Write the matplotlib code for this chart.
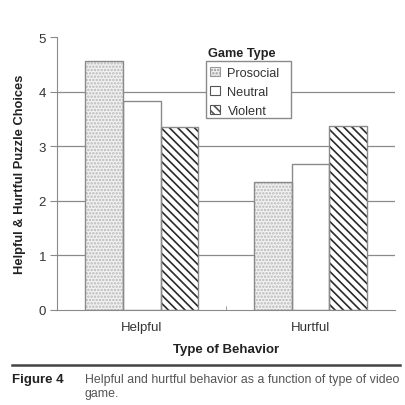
import matplotlib
matplotlib.use("Agg")
import matplotlib.pyplot as plt
import matplotlib.patches as mpatches
import numpy as np

plt.rcParams['font.family'] = ['Liberation Sans', 'DejaVu Sans']
plt.rcParams['hatch.linewidth'] = 1.2

categories = ["Helpful", "Hurtful"]
series_names = ["Prosocial", "Neutral", "Violent"]
prosocial = [4.56, 2.34]
neutral = [3.83, 2.67]
violent = [3.36, 3.38]
yticks = [0, 1, 2, 3, 4, 5]

fig = plt.figure(figsize=(4.06, 4.06), dpi=100)
ax = fig.add_axes([0.141, 0.234, 0.832, 0.672])

x = np.arange(len(categories))
w = 0.223
edge = '#8a8a8a'
txt = '#333333'
styles = [
    dict(face='#f2f2f2', hatch='.....', hcol='#b8b8b8'),
    dict(face='white', hatch=None, hcol='white'),
    dict(face='white', hatch='\\\\\\\\', hcol='#2a2a2a'),
]
for i, (vals, st) in enumerate(zip([prosocial, neutral, violent], styles)):
    pos = x + (i - 1) * w
    ax.bar(pos, vals, w, color=st['face'], hatch=st['hatch'], edgecolor=st['hcol'],
           linewidth=0, zorder=2)
    ax.bar(pos, vals, w, fill=False, edgecolor=edge, linewidth=1.0, zorder=3)

ax.set_xlim(-0.5, 1.5)
ax.set_ylim(0, 5)
ax.set_yticks(yticks)
ax.set_xticks(x)
ax.set_xticklabels(categories, fontsize=9.5, color=txt)
ax.set_xticks([0.5], minor=True)
ax.tick_params(axis='x', which='major', length=0, pad=8)
ax.tick_params(axis='x', which='minor', length=3, color=edge, direction='in')
ax.tick_params(axis='y', length=5, color=edge, labelsize=9.5, labelcolor=txt, pad=3)
for yv in yticks[1:-1]:
    ax.axhline(yv, color='#8a8a8a', linewidth=0.9, zorder=1)
for s in ['top', 'right']:
    ax.spines[s].set_visible(False)
ax.spines['left'].set_color(edge)
ax.spines['bottom'].set_color(edge)
ax.set_ylabel("Helpful & Hurtful Puzzle Choices", fontsize=9.3, fontweight='bold',
              labelpad=9, color='#222222')
ax.set_xlabel("Type of Behavior", fontsize=9.5, fontweight='bold', labelpad=7, color='#222222')

# legend frame drawn as a plain rectangle (figure pixels -> fraction)
box = mpatches.Rectangle((206 / 406, 1 - 119.3 / 406), (290.7 - 206) / 406, (119.3 - 61.7) / 406,
                         transform=fig.transFigure, facecolor='white', edgecolor='#8a8a8a',
                         linewidth=1.0, zorder=4)
ax.add_artist(box)
box.set_clip_on(False)

handles = []
for st in styles:
    handles.append(mpatches.Patch(facecolor=st['face'], hatch=st['hatch'],
                                  edgecolor='#555555' if st['hatch'] != '.....' else '#999999',
                                  linewidth=0.8))
leg = ax.legend(handles, series_names, loc='upper left',
                bbox_to_anchor=(207 / 406, 1 - 65 / 406), bbox_transform=fig.transFigure,
                fontsize=9.2, frameon=False, handlelength=0.8,
                handleheight=0.8, handletextpad=0.6, borderpad=0.2, labelspacing=0.52,
                borderaxespad=0)
for t in leg.get_texts():
    t.set_color(txt)
leg.set_zorder(5)
fig.text(242 / 406, 1 - 54 / 406, "Game Type", fontsize=9.2, fontweight='bold',
         ha='center', va='center', color='#222222')

fig.add_artist(plt.Line2D([12 / 406, 400 / 406], [1 - 366 / 406, 1 - 366 / 406],
                          color='#444444', linewidth=1.8))
fig.text(12 / 406, 1 - 380 / 406, "Figure 4", fontsize=9.5, fontweight='bold',
         ha='left', va='center', color='#222222')
fig.text(85 / 406, 1 - 380 / 406, "Helpful and hurtful behavior as a function of type of video",
         fontsize=8.9, ha='left', va='center', color='#555555')
fig.text(85 / 406, 1 - 394 / 406, "game.", fontsize=8.9, ha='left', va='center', color='#555555')

fig.savefig("out.png", dpi=100)
